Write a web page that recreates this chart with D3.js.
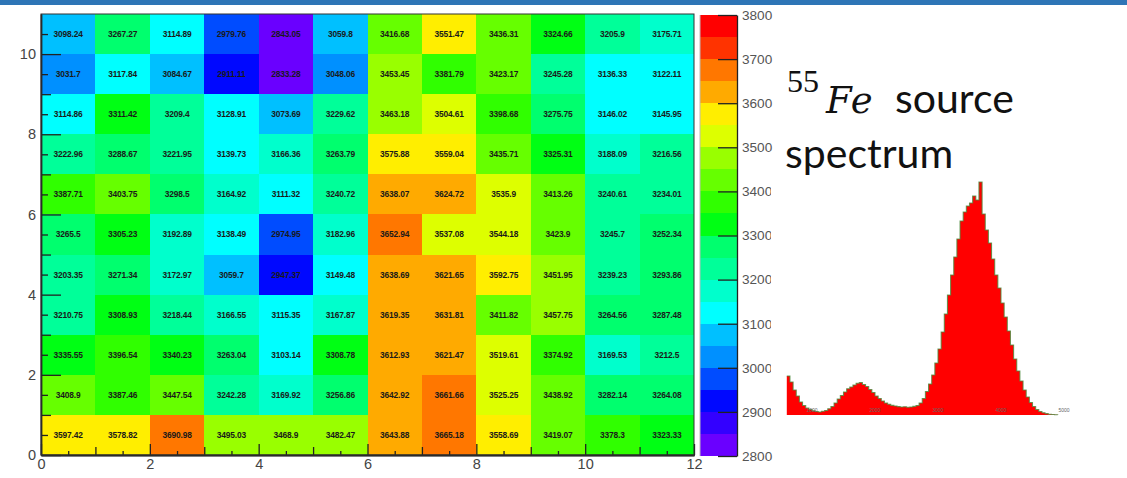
<!DOCTYPE html>
<html>
<head>
<meta charset="utf-8">
<script src="https://cdn.jsdelivr.net/npm/d3@7"></script>
<style>
  html, body { margin: 0; padding: 0; background: #fff; }
  svg { display: block; }
</style>
</head>
<body>
<svg id="chart" width="1127" height="478"></svg>
<script>
// Mean response per pad (12 x 11 grid), rows listed from top (y = 10) to bottom (y = 0)
const rowY = [10, 9, 8, 7, 6, 5, 4, 3, 2, 1, 0];
const padValues = [
  [3098.24, 3267.27, 3114.89, 2979.76, 2843.05, 3059.8, 3416.68, 3551.47, 3436.31, 3324.66, 3205.9, 3175.71],
  [3031.7, 3117.84, 3084.67, 2911.11, 2833.28, 3048.06, 3453.45, 3381.79, 3423.17, 3245.28, 3136.33, 3122.11],
  [3114.86, 3311.42, 3209.4, 3128.91, 3073.69, 3229.62, 3463.18, 3504.61, 3398.68, 3275.75, 3146.02, 3145.95],
  [3222.96, 3288.67, 3221.95, 3139.73, 3166.36, 3263.79, 3575.88, 3559.04, 3435.71, 3325.31, 3188.09, 3216.56],
  [3387.71, 3403.75, 3298.5, 3164.92, 3111.32, 3240.72, 3638.07, 3624.72, 3535.9, 3413.26, 3240.61, 3234.01],
  [3265.5, 3305.23, 3192.89, 3138.49, 2974.95, 3182.96, 3652.94, 3537.08, 3544.18, 3423.9, 3245.7, 3252.34],
  [3203.35, 3271.34, 3172.97, 3059.7, 2947.37, 3149.48, 3638.69, 3621.65, 3592.75, 3451.95, 3239.23, 3293.86],
  [3210.75, 3308.93, 3218.44, 3166.55, 3115.35, 3167.87, 3619.35, 3631.81, 3411.82, 3457.75, 3264.56, 3287.48],
  [3335.55, 3396.54, 3340.23, 3263.04, 3103.14, 3308.78, 3612.93, 3621.47, 3519.61, 3374.92, 3169.53, 3212.5],
  [3408.9, 3387.46, 3447.54, 3242.28, 3169.92, 3256.86, 3642.92, 3661.66, 3525.25, 3438.92, 3282.14, 3264.08],
  [3597.42, 3578.82, 3690.98, 3495.03, 3468.9, 3482.47, 3643.88, 3665.18, 3558.69, 3419.07, 3378.3, 3323.33]
];

// Axis ticks
const xTickLabels = [0, 2, 4, 6, 8, 10, 12];
const yTickLabels = [0, 2, 4, 6, 8, 10];
const zTickLabels = [2800, 2900, 3000, 3100, 3200, 3300, 3400, 3500, 3600, 3700, 3800];

// Colour palette: 20 contour bands of 50 between 2800 and 3800
const paletteColors = [
  "#6a00ff", "#3300ff", "#0008ff", "#004cff", "#0090ff",
  "#00c0ff", "#00ffff", "#00ffcc", "#00ff99", "#00ff6e",
  "#00ff14", "#30ff00", "#66ff00", "#99ff00", "#ddff00",
  "#ffee00", "#ffaa00", "#ff7700", "#ff3300", "#ff0000"
];

// 55Fe spectrum: counts per 50-channel bin, starting at channel 600
const specStart = 600;
const specBinWidth = 50;
const specCounts = [
  390, 330, 250, 190, 130, 95, 70, 55, 42, 35,
  30, 38, 45, 62, 85, 120, 160, 195, 230, 262,
  280, 300, 318, 325, 305, 285, 255, 225, 190, 165,
  140, 120, 108, 96, 90, 84, 80, 82, 78, 80,
  86, 95, 120, 165, 235, 310, 400, 520, 660, 830,
  1010, 1200, 1400, 1580, 1760, 1940, 2030, 2090, 2120, 2190,
  2150, 2330, 2010, 1850, 1720, 1560, 1400, 1270, 1120, 980,
  840, 700, 560, 440, 340, 250, 180, 125, 85, 55,
  35, 22, 14, 8, 5, 3
];
const specTickLabels = [1000, 2000, 3000, 4000, 5000];

const svg = d3.select("#chart");

// Header band
svg.append("rect").attr("x", 0).attr("y", 0).attr("width", 1127).attr("height", 5).attr("fill", "#2e75b6");

// ---- Heat map ----
const x = d3.scaleLinear().domain([0, 12]).range([41, 694]);
const y = d3.scaleLinear().domain([0, 11]).range([455, 14]);
const color = d3.scaleQuantize().domain([2800, 3800]).range(paletteColors);

const cells = [];
padValues.forEach((row, r) => row.forEach((v, c) => cells.push({ col: c, row: rowY[r], v })));

const cellG = svg.append("g");
cellG.selectAll("rect").data(cells).join("rect")
  .attr("x", d => x(d.col))
  .attr("y", d => y(d.row + 1))
  .attr("width", d => x(d.col + 1) - x(d.col))
  .attr("height", d => y(d.row) - y(d.row + 1))
  .attr("fill", d => color(d.v))
  .attr("shape-rendering", "crispEdges");

cellG.selectAll("text").data(cells).join("text")
  .attr("x", d => (x(d.col) + x(d.col + 1)) / 2)
  .attr("y", d => (y(d.row) + y(d.row + 1)) / 2)
  .attr("dy", "0.35em")
  .attr("text-anchor", "middle")
  .attr("font-family", "Liberation Sans, Arial, sans-serif")
  .attr("font-size", 8.4)
  .attr("font-weight", "bold")
  .attr("letter-spacing", -0.15)
  .attr("fill", "#1a1a1a")
  .text(d => d.v);

const axisFont = "Liberation Sans, Arial, sans-serif";

function styleAxis(g, fontSize, fill) {
  g.selectAll("line").attr("stroke", "#222").attr("stroke-width", 1.3);
  g.selectAll("path.domain").attr("stroke", "#222").attr("stroke-width", 1.3);
  g.selectAll("text").attr("font-family", axisFont).attr("font-size", fontSize).attr("fill", fill);
}

// X axis: major (even), secondary (odd), tertiary (half) ticks pointing inward
const xAxisG = svg.append("g").attr("transform", "translate(0,455)");
xAxisG.append("g").call(d3.axisBottom(x).tickValues(d3.range(0.5, 12, 1)).tickSize(-4).tickSizeOuter(0).tickFormat(""));
xAxisG.append("g").call(d3.axisBottom(x).tickValues(d3.range(1, 12, 2)).tickSize(-8).tickSizeOuter(0).tickFormat(""));
xAxisG.append("g").call(d3.axisBottom(x).tickValues(xTickLabels).tickSize(-11).tickSizeOuter(0).tickPadding(4).tickFormat(d3.format("d")));
styleAxis(xAxisG, 14.5, "#444");

// Y axis
const yAxisG = svg.append("g").attr("transform", "translate(41,0)");
yAxisG.append("g").call(d3.axisLeft(y).tickValues(d3.range(0.5, 11, 1)).tickSize(-7).tickSizeOuter(0).tickFormat(""));
yAxisG.append("g").call(d3.axisLeft(y).tickValues(d3.range(1, 11, 2)).tickSize(-10).tickSizeOuter(0).tickFormat(""));
yAxisG.append("g").call(d3.axisLeft(y).tickValues(yTickLabels).tickSize(-20).tickSizeOuter(0).tickPadding(5).tickFormat(d3.format("d")));
styleAxis(yAxisG, 14.5, "#444");

// Frame
svg.append("rect")
  .attr("x", x(0)).attr("y", y(11))
  .attr("width", x(12) - x(0)).attr("height", y(0) - y(11))
  .attr("fill", "none").attr("stroke", "#333").attr("stroke-width", 1);

// ---- Colour bar ----
const z = d3.scaleLinear().domain([2800, 3800]).range([456, 15]);
const bandStarts = d3.range(2800, 3800, 50);
svg.append("g").selectAll("rect").data(bandStarts).join("rect")
  .attr("x", 700).attr("width", 37)
  .attr("y", d => z(d + 50))
  .attr("height", d => z(d) - z(d + 50))
  .attr("fill", d => color(d + 25))
  .attr("shape-rendering", "crispEdges");
svg.append("line").attr("x1", 700).attr("x2", 700).attr("y1", 15).attr("y2", 456)
  .attr("stroke", "#bbb").attr("stroke-width", 1);
const zAxisG = svg.append("g").attr("transform", "translate(737,0)")
  .call(d3.axisRight(z).tickValues(zTickLabels).tickSize(-19).tickSizeOuter(0).tickPadding(5).tickFormat(d3.format("d")));
styleAxis(zAxisG, 13.6, "#555");

// ---- Spectrum inset (its white panel overlaps the colour-bar labels) ----
svg.append("rect").attr("x", 771).attr("y", 168).attr("width", 356).attr("height", 254).attr("fill", "#fff");

const sx = d3.scaleLinear().domain([1000, 2000]).range([812, 875]);
const sy = d3.scaleLinear().domain([0, 2330]).range([415, 182]);
const specBins = specCounts.map((c, i) => ({ ch: specStart + i * specBinWidth, c }));
const lastCh = specStart + specCounts.length * specBinWidth;
const stepPts = specBins.concat([{ ch: lastCh, c: 0 }]);

svg.append("path")
  .datum(stepPts)
  .attr("d", d3.area().x(d => sx(d.ch)).y0(415).y1(d => sy(d.c)).curve(d3.curveStepAfter))
  .attr("fill", "#ff0000");
svg.append("path")
  .datum(stepPts)
  .attr("d", d3.line().x(d => sx(d.ch)).y(d => sy(d.c)).curve(d3.curveStepAfter))
  .attr("fill", "none").attr("stroke", "#4c8a3c").attr("stroke-width", 1.1).attr("stroke-opacity", 0.8);

svg.append("g").selectAll("text").data(specTickLabels).join("text")
  .attr("x", d => sx(d)).attr("y", 412)
  .attr("text-anchor", "middle")
  .attr("font-family", axisFont).attr("font-size", 5).attr("fill", "#666")
  .text(d => d);

// ---- Caption ----
svg.append("text").attr("x", 787).attr("y", 92)
  .attr("font-family", "Liberation Serif, serif").attr("font-size", 32).attr("fill", "#111")
  .text("55");
svg.append("text").attr("x", 826).attr("y", 113)
  .attr("font-family", "DejaVu Serif, serif").attr("font-style", "italic")
  .attr("font-size", 37).attr("letter-spacing", 1).attr("fill", "#111")
  .text("Fe");
svg.append("text").attr("x", 895).attr("y", 113)
  .attr("font-family", "Lato, sans-serif").attr("font-size", 41).attr("fill", "#111")
  .text("source");
svg.append("text").attr("x", 785).attr("y", 168)
  .attr("font-family", "Lato, sans-serif").attr("font-size", 41).attr("fill", "#111")
  .text("spectrum");
</script>
</body>
</html>
